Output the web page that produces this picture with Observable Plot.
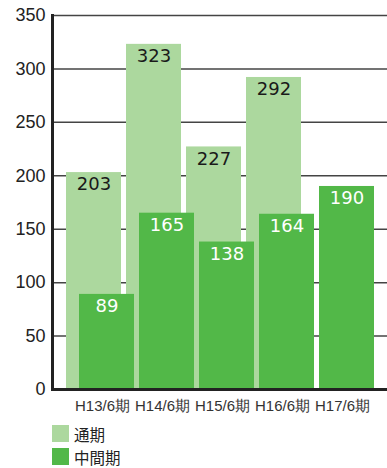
<!DOCTYPE html>
<html><head><meta charset="utf-8">
<script src="https://cdn.jsdelivr.net/npm/d3@7"></script>
<script src="https://cdn.jsdelivr.net/npm/@observablehq/plot@0.6"></script>
<style>
body{margin:0;background:#fff;font-family:"Liberation Sans",Arial,sans-serif;}
svg{display:block;}
#legend{position:relative;margin-left:52px;margin-top:4px;font-family:"Noto Sans CJK JP",sans-serif;font-size:15.5px;color:#222;}
.row{display:flex;align-items:center;height:23px;line-height:20px;}
.sw{width:17px;height:17px;margin-right:5px;}
</style></head><body>
<div id="chart"></div>
<div id="legend"></div>
<script>
const categories = ["H13/6期","H14/6期","H15/6期","H16/6期","H17/6期"];
const fullYear = [203, 323, 227, 292, null];
const interim = [89, 165, 138, 164, 190];
const yTicks = [0,50,100,150,200,250,300,350];
const seriesNames = ["通期","中間期"];
const colors = ["#acd89e","#52b848"];

const fullData = categories.map((c,i)=>({c, v: fullYear[i]})).filter(d=>d.v!=null);
const intData = categories.map((c,i)=>({c, v: interim[i]}));

const chart = Plot.plot({
  width: 387, height: 418,
  marginTop: 15, marginBottom: 29, marginLeft: 52, marginRight: 0,
  style: {fontFamily: "Liberation Sans, Arial, sans-serif", background: "#fff"},
  x: {type: "band", domain: categories, range: [66, 366], padding: 0},
  y: {domain: [0, 350], ticks: yTicks},
  marks: [
    Plot.gridY(yTicks, {stroke: "#444", strokeOpacity: 1, strokeWidth: 1.5}),
    Plot.barY(fullData, {x: "c", y: "v", fill: colors[0], insetLeft: 0, insetRight: 5}),
    Plot.barY(intData, {x: "c", y: "v", fill: colors[1], insetLeft: 13, insetRight: -8}),
    Plot.text(fullData, {x: "c", y: "v", text: d=>String(d.v), lineAnchor: "top", dy: 5, dx: -2.5, fill: "#1a1a1a", fontSize: 18, fontFamily: "DejaVu Sans", style: "letter-spacing:1.5px"}),
    Plot.text(intData, {x: "c", y: "v", text: d=>String(d.v), lineAnchor: "top", dy: 5, dx: 10.5, fill: "#fff", fontSize: 18, fontFamily: "DejaVu Sans", style: "letter-spacing:1.5px"}),
    Plot.axisY({ticks: yTicks, tickSize: 0, tickPadding: 7, fontSize: 18, fill: "#222", label: null}),
    Plot.axisX({tickSize: 0, tickPadding: 11, fontSize: 15, fill: "#333", label: null, dx: 6, fontFamily: "Liberation Sans, Arial, sans-serif", style: "letter-spacing:-0.6px"}),
    Plot.frame({anchor: "left", stroke: "#222", strokeWidth: 3}),
    Plot.frame({anchor: "bottom", stroke: "#222", strokeWidth: 3})
  ]
});
document.getElementById("chart").appendChild(chart);
const lg = document.getElementById("legend");
seriesNames.forEach((n,i)=>{
  const r = document.createElement("div"); r.className="row";
  const s = document.createElement("div"); s.className="sw"; s.style.background=colors[i];
  const t = document.createElement("span"); t.textContent=n;
  r.appendChild(s); r.appendChild(t); lg.appendChild(r);
});
</script>
</body></html>
